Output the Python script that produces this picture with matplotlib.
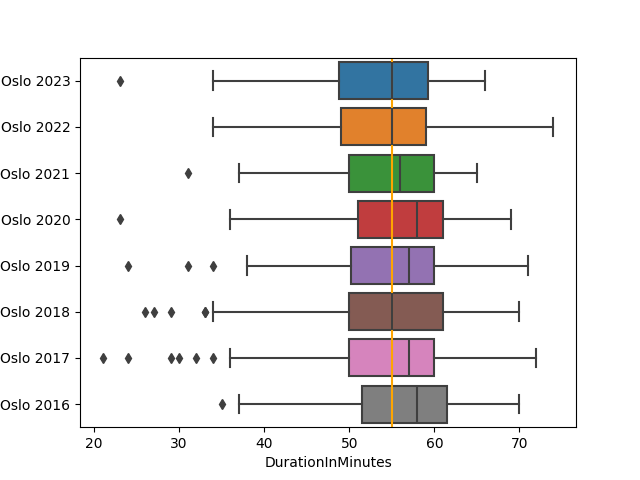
import matplotlib
matplotlib.use("Agg")
import matplotlib.pyplot as plt

# Boxplot statistics
labels = ["Oslo 2023", "Oslo 2022", "Oslo 2021", "Oslo 2020",
          "Oslo 2019", "Oslo 2018", "Oslo 2017", "Oslo 2016"]
q1 = [48.75, 49, 50, 51, 50.25, 50, 50, 51.5]
med = [55, 55, 56, 58, 57, 55, 57, 58]
q3 = [59.25, 59, 60, 61, 60, 61, 60, 61.5]
whislo = [34, 34, 37, 36, 38, 34, 36, 37]
whishi = [66, 74, 65, 69, 71, 70, 72, 70]
fliers = [[23], [], [31], [23], [24, 31, 34],
          [26, 27, 29, 33, 33], [21, 24, 29, 30, 32, 34], [35]]
colors = ["#3274a1", "#e1812c", "#3a923a", "#c03d3e",
          "#9372b2", "#845b53", "#d684bd", "#7f7f7f"]
mean_line = 55

gray = "#3f3f3f"

stats = []
for i in range(len(labels)):
    stats.append(dict(q1=q1[i], med=med[i], q3=q3[i], whislo=whislo[i],
                      whishi=whishi[i], fliers=fliers[i], label=labels[i]))

fig, ax = plt.subplots(figsize=(6.4, 4.8), dpi=100)
bp = ax.bxp(stats, positions=range(len(labels)), widths=0.8, vert=False,
            patch_artist=True,
            boxprops=dict(edgecolor=gray, linewidth=1.5),
            whiskerprops=dict(color=gray, linewidth=1.5),
            capprops=dict(color=gray, linewidth=1.5),
            medianprops=dict(color=gray, linewidth=1.5),
            flierprops=dict(marker="d", markerfacecolor=gray,
                            markeredgecolor=gray, markersize=5,
                            linestyle="none"))
for patch, c in zip(bp["boxes"], colors):
    patch.set_facecolor(c)

ax.axvline(mean_line, color="orange")
ax.set_ylim(len(labels) - 0.5, -0.5)
ax.set_xlim(18.35, 76.65)
ax.set_xlabel("DurationInMinutes")

fig.savefig("out.png")
